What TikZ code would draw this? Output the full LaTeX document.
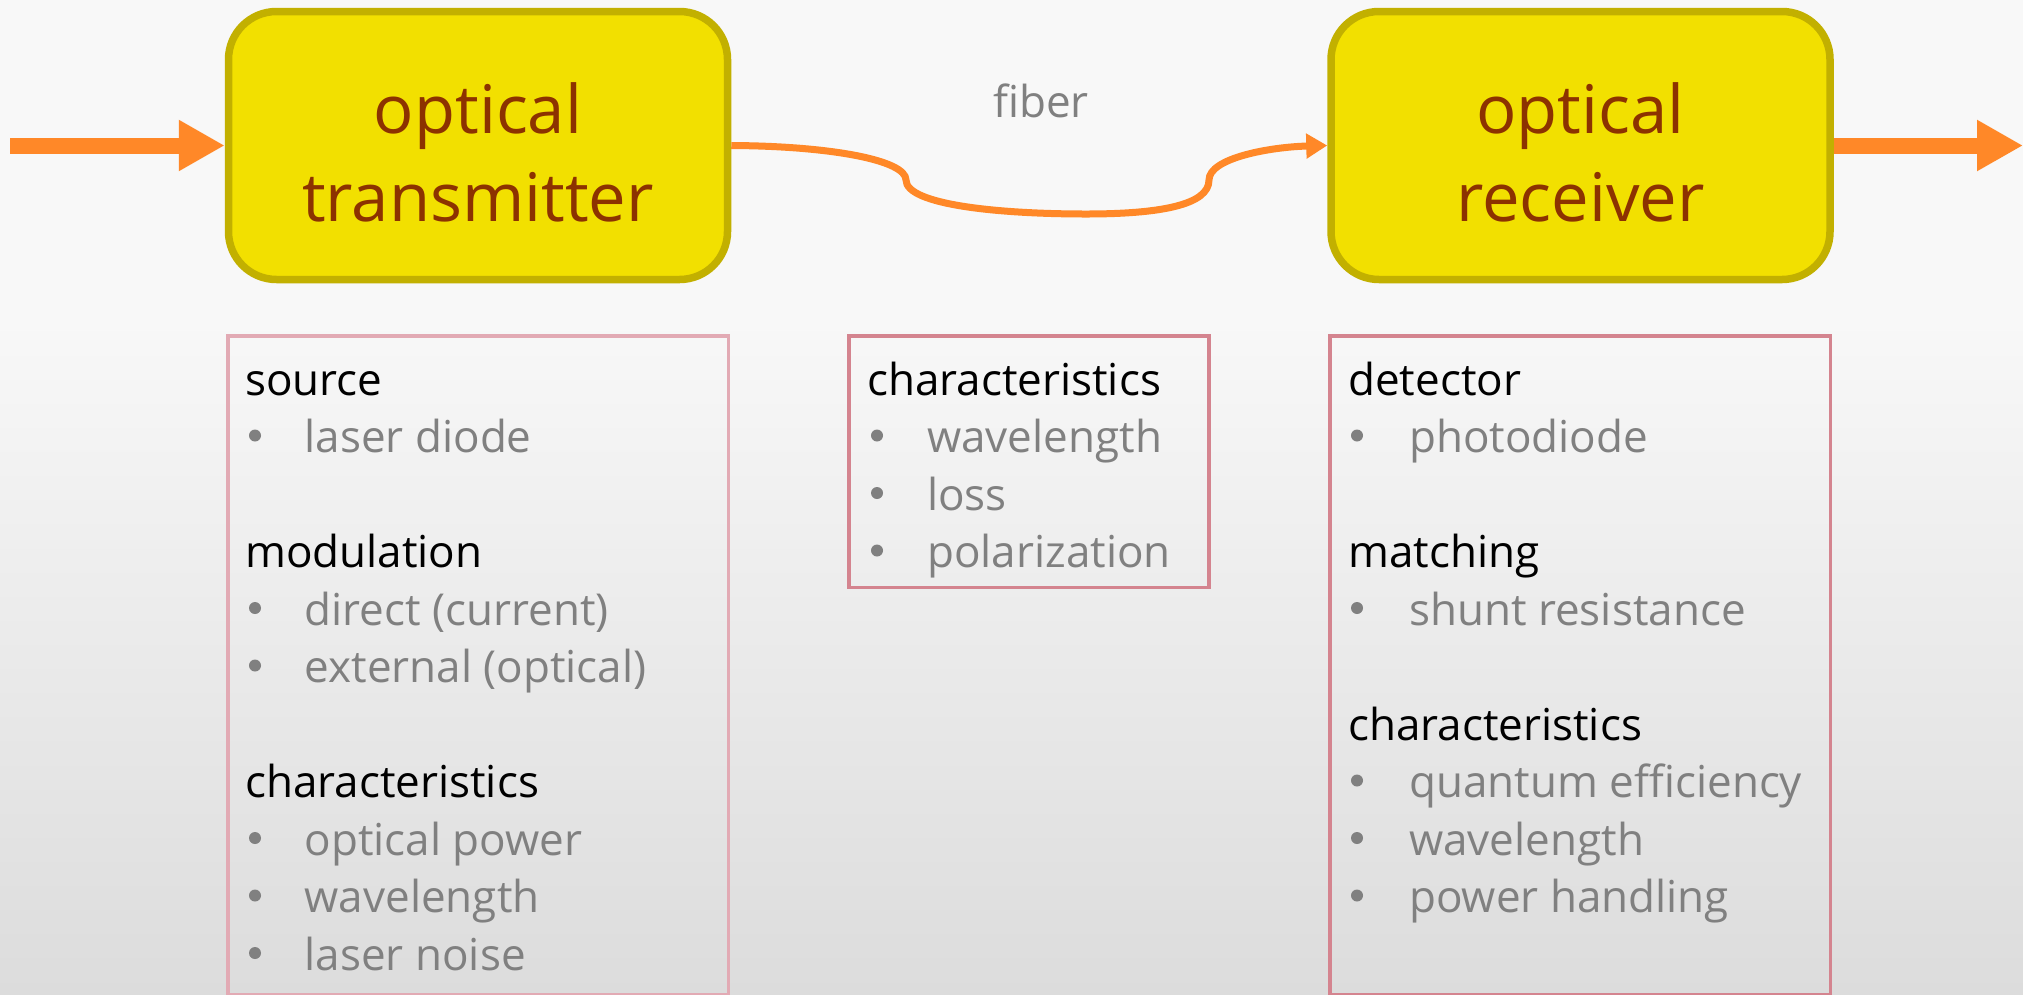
\documentclass[tikz,border=0pt]{standalone}
\usepackage{fontspec}
\setmainfont{Open Sans}
\usetikzlibrary{arrows.meta}

\definecolor{unitfill}{HTML}{F2E000}
\definecolor{unitedge}{HTML}{C2B000}
\definecolor{unittext}{HTML}{8C3200}
\definecolor{signal}{HTML}{FF8828}
\definecolor{itemgray}{HTML}{808080}
\definecolor{paleedge}{HTML}{E2AAB4}
\definecolor{roseedge}{HTML}{D4848F}
\definecolor{bgtop}{HTML}{F8F8F8}
\definecolor{bgbottom}{HTML}{DCDCDC}

\newcommand\titlefont{\fontsize{67}{80}\selectfont}
\newcommand\bodyfont{\fontsize{44}{52}\selectfont}

\begin{document}
\begin{tikzpicture}[x=1pt,y=-1pt,
  unit/.style={draw=unitedge, fill=unitfill, line width=7.5pt, rounded corners=48pt,
    minimum width=499pt, minimum height=268pt, inner sep=0pt},
  unitlabel/.style={anchor=base, text=unittext, font=\titlefont, inner sep=0pt},
  infobox/.style={draw=roseedge, line width=3.5pt, inner sep=0pt, anchor=north west},
  heading/.style={anchor=base west, text=black, font=\bodyfont, inner sep=0pt},
  bulletdot/.style={circle, fill=itemgray, minimum size=12pt, inner sep=0pt, yshift=17pt},
  itemtext/.style={anchor=base west, text=itemgray, font=\bodyfont, inner sep=0pt},
  signalarrow/.style={draw=signal, line width=16pt, -{Triangle[length=46pt,width=48pt]}},
  fiberline/.style={draw=signal, line width=7pt, -{Triangle[length=21pt,width=24pt]}}
]
\useasboundingbox (0,0) rectangle (2023,994);
\clip (0,0) rectangle (2023,994);

% background: flat on top, fading to grey below
\fill[bgtop] (0,0) rectangle (2023,320);
\shade[top color=bgtop, bottom color=bgbottom] (0,319) rectangle (2023,994);

% transmitter and receiver blocks
\node[unit] (tx) at (478,145.5) {};
\node[unitlabel] (txa) at (478,133) {optical};
\node[unitlabel] (txb) at (478,221) {transmitter};

\node[unit] (rx) at (1580.5,145.5) {};
\node[unitlabel] (rxa) at (1580.5,133) {optical};
\node[unitlabel] (rxb) at (1580.5,221) {receiver};

% electrical input and output
\coordinate (src) at (10,145.5);
\coordinate (sink) at (2023,145.5);
\draw[signalarrow] (src) -- (tx.west);
\draw[signalarrow] (rx.east) -- (sink);

% fiber link
\draw[fiberline] (tx.east) .. controls (830,146) and (906,160) .. (906,180)
  .. controls (906,205) and (1000,214) .. (1086,214)
  .. controls (1160,214) and (1209,205) .. (1209,180)
  .. controls (1209,158) and (1270,147) .. (rx.west);
\node[anchor=base, text=itemgray, font=\bodyfont, inner sep=0pt] (fiberlbl) at (1041,117) {fiber};

% information panels (the two long ones run down to the lower edge)
\node[infobox, draw=paleedge, minimum width=500.5pt, minimum height=658.5pt] (txinfo) at (226,334) {};
\node[infobox, minimum width=360pt, minimum height=251.5pt] (fiberinfo) at (847,334) {};
\node[infobox, minimum width=500.5pt, minimum height=658.5pt] (rxinfo) at (1328,334) {};

% transmitter panel
\node[heading] (t1) at (245,395) {source};
\node[bulletdot] (t2b) at (255,452.5) {};
\node[itemtext] (t2) at (304.5,452.5) {laser diode};
\node[heading] (t3) at (245,567.5) {modulation};
\node[bulletdot] (t4b) at (255,625) {};
\node[itemtext] (t4) at (304.5,625) {direct (current)};
\node[bulletdot] (t5b) at (255,682.5) {};
\node[itemtext] (t5) at (304.5,682.5) {external (optical)};
\node[heading] (t6) at (245,797.5) {characteristics};
\node[bulletdot] (t7b) at (255,855) {};
\node[itemtext] (t7) at (304.5,855) {optical power};
\node[bulletdot] (t8b) at (255,912.5) {};
\node[itemtext] (t8) at (304.5,912.5) {wavelength};
\node[bulletdot] (t9b) at (255,970) {};
\node[itemtext] (t9) at (304.5,970) {laser noise};

% fiber panel
\node[heading] (f1) at (867,395) {characteristics};
\node[bulletdot] (f2b) at (877,452.5) {};
\node[itemtext] (f2) at (927,452.5) {wavelength};
\node[bulletdot] (f3b) at (877,510) {};
\node[itemtext] (f3) at (927,510) {loss};
\node[bulletdot] (f4b) at (877,567.5) {};
\node[itemtext] (f4) at (927,567.5) {polarization};

% receiver panel
\node[heading] (r1) at (1348,395) {detector};
\node[bulletdot] (r2b) at (1357,452.5) {};
\node[itemtext] (r2) at (1409,452.5) {photodiode};
\node[heading] (r3) at (1348,567.5) {matching};
\node[bulletdot] (r4b) at (1357,625) {};
\node[itemtext] (r4) at (1409,625) {shunt resistance};
\node[heading] (r5) at (1348,740) {characteristics};
\node[bulletdot] (r6b) at (1357,797.5) {};
\node[itemtext] (r6) at (1409,797.5) {quantum efficiency};
\node[bulletdot] (r7b) at (1357,855) {};
\node[itemtext] (r7) at (1409,855) {wavelength};
\node[bulletdot] (r8b) at (1357,912.5) {};
\node[itemtext] (r8) at (1409,912.5) {power handling};
\end{tikzpicture}
\end{document}
